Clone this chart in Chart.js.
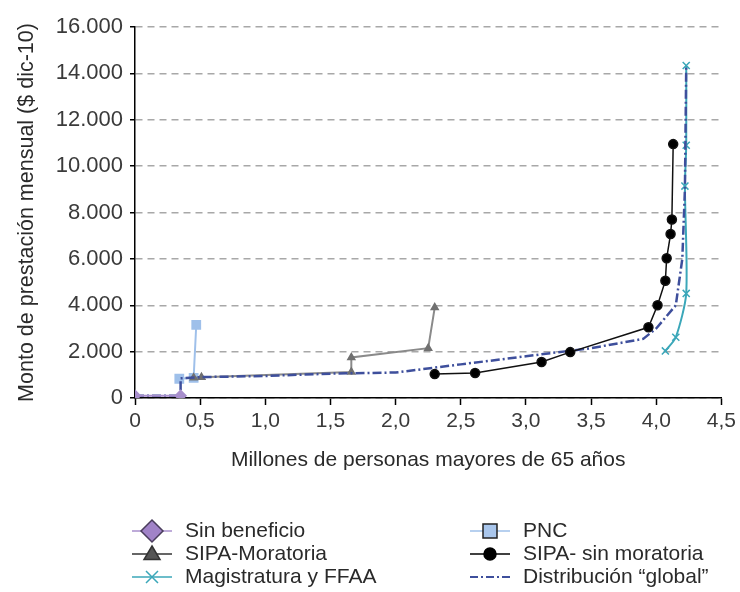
<!DOCTYPE html>
<html>
<head>
<meta charset="utf-8">
<script src="https://cdn.jsdelivr.net/npm/chart.js@4"></script>
<style>
  body { margin: 0; background: #fff; }
</style>
</head>
<body>
<canvas id="chart" width="740" height="592"></canvas>
<script>
// data (x: millones de personas, y: $ dic-10)
var sinBeneficioX = [0, 0.35];
var sinBeneficioY = [100, 100];

var pncX = [0.34, 0.45, 0.47];
var pncY = [830, 870, 3150];

var moratoriaX = [0.45, 0.51, 1.66, 1.66, 2.25, 2.30];
var moratoriaY = [870, 900, 1120, 1750, 2150, 3900];

var sinMoratoriaX = [2.30, 2.61, 3.12, 3.34, 3.94, 4.01, 4.07, 4.08, 4.11, 4.12, 4.13];
var sinMoratoriaY = [1030, 1080, 1550, 1980, 3050, 4000, 5060, 6030, 7070, 7700, 10950];

var magistraturaX = [4.07, 4.15, 4.23, 4.22, 4.23, 4.23];
var magistraturaY = [2030, 2620, 4510, 9140, 10900, 14340];

var globalX = [0, 0.35, 0.35, 0.5, 1.0, 1.5, 2.0, 2.5, 3.0, 3.5, 3.9, 4.0, 4.15, 4.2, 4.22, 4.23];
var globalY = [100, 100, 850, 900, 950, 1050, 1100, 1450, 1800, 2150, 2550, 3000, 4000, 6000, 9000, 14300];

var labels = ['Sin beneficio', 'PNC', 'SIPA-Moratoria', 'SIPA- sin moratoria', 'Magistratura y FFAA', 'Distribución \u201cglobal\u201d'];

var xTickMax = 4.5, xTickStep = 0.5;
var yTickMax = 16000, yTickStep = 2000;

function pts(xs, ys) {
  return xs.map(function (x, i) { return { x: x, y: ys[i] }; });
}

var FONT = 'Liberation Sans';
var TXT = '#3a3a3a';

var data = {
  datasets: [
    { label: labels[0], data: pts(sinBeneficioX, sinBeneficioY), borderColor: '#a88fcc', backgroundColor: '#a88fcc',
      pointStyle: 'rectRot', pointRadius: 5, borderWidth: 2, order: 0 },
    { label: labels[1], data: pts(pncX, pncY), borderColor: '#9fc0ea', backgroundColor: '#9fc0ea',
      pointStyle: 'rect', pointRadius: 5.5, borderWidth: 2, order: 5 },
    { label: labels[2], data: pts(moratoriaX, moratoriaY), borderColor: '#8a8a8a', backgroundColor: '#707070',
      pointBorderColor: '#707070', pointStyle: 'triangle', pointRadius: 3.5, borderWidth: 2, order: 4 },
    { label: labels[3], data: pts(sinMoratoriaX, sinMoratoriaY), borderColor: '#111', backgroundColor: '#000',
      pointStyle: 'circle', pointRadius: 4.5, borderWidth: 1.5, order: 1 },
    { label: labels[4], data: pts(magistraturaX, magistraturaY), borderColor: '#3ba7b9', backgroundColor: '#3ba7b9',
      pointStyle: 'crossRot', pointRadius: 5, pointBorderWidth: 1.5, borderWidth: 2, tension: 0.25, order: 3 },
    { label: labels[5], data: pts(globalX, globalY), borderColor: '#3e4f9c', backgroundColor: '#3e4f9c',
      borderDash: [9, 3, 2, 3], pointRadius: 0, borderWidth: 2.5, order: 2 }
  ]
};

function drawMarker(ctx, style, x, y, r, fill, stroke) {
  ctx.beginPath();
  ctx.fillStyle = fill;
  ctx.strokeStyle = stroke;
  ctx.lineWidth = 1.5;
  if (style === 'rectRot') {
    ctx.moveTo(x, y - r); ctx.lineTo(x + r, y); ctx.lineTo(x, y + r); ctx.lineTo(x - r, y); ctx.closePath();
    ctx.fill(); ctx.stroke();
  } else if (style === 'rect') {
    ctx.rect(x - r, y - r, 2 * r, 2 * r); ctx.fill(); ctx.stroke();
  } else if (style === 'triangle') {
    ctx.moveTo(x, y - r); ctx.lineTo(x + r, y + r * 0.7); ctx.lineTo(x - r, y + r * 0.7); ctx.closePath();
    ctx.fill(); ctx.stroke();
  } else if (style === 'circle') {
    ctx.arc(x, y, r, 0, Math.PI * 2); ctx.fill(); ctx.stroke();
  } else if (style === 'crossRot') {
    ctx.moveTo(x - r, y - r); ctx.lineTo(x + r, y + r);
    ctx.moveTo(x + r, y - r); ctx.lineTo(x - r, y + r);
    ctx.stroke();
  }
}

// two column legend below the chart, like the original figure
var legendLayout = [
  { col: 0, row: 0, marker: 'rectRot', r: 11, fill: '#a183c8', stroke: '#4a3d5c', line: '#a88fcc' },
  { col: 1, row: 0, marker: 'rect', r: 7, fill: '#a9c6ec', stroke: '#222', line: '#9fc0ea' },
  { col: 0, row: 1, marker: 'triangle', r: 8, fill: '#555', stroke: '#333', line: '#333' },
  { col: 1, row: 1, marker: 'circle', r: 6, fill: '#000', stroke: '#000', line: '#000' },
  { col: 0, row: 2, marker: 'crossRot', r: 6, fill: '#3ba7b9', stroke: '#3ba7b9', line: '#3ba7b9' },
  { col: 1, row: 2, marker: null, line: '#3e4f9c', dash: [8, 3, 2, 3] }
];

var legendPlugin = {
  id: 'twoColLegend',
  afterDraw: function (chart) {
    var ctx = chart.ctx;
    var colX = [152, 490];
    var rowY = [531, 554, 577];
    ctx.save();
    chart.data.datasets.forEach(function (ds, i) {
      var it = legendLayout[i];
      var cx = colX[it.col], cy = rowY[it.row];
      ctx.beginPath();
      ctx.strokeStyle = it.line;
      ctx.lineWidth = it.dash ? 2 : 1.5;
      ctx.setLineDash(it.dash || []);
      ctx.moveTo(cx - 20, cy);
      ctx.lineTo(cx + 20, cy);
      ctx.stroke();
      ctx.setLineDash([]);
      if (it.marker) drawMarker(ctx, it.marker, cx, cy, it.r, it.fill, it.stroke);
      ctx.fillStyle = '#2a2a2a';
      ctx.font = '21px "' + FONT + '"';
      ctx.textBaseline = 'middle';
      ctx.textAlign = 'left';
      ctx.fillText(ds.label, cx + 33, cy);
    });
    ctx.restore();
  }
};

var options = {
  responsive: false,
  animation: false,
  layout: { padding: { left: 10, right: 14, top: 27, bottom: 0 } },
  plugins: { legend: { display: false }, tooltip: { enabled: false } },
  elements: { line: { fill: false } },
  scales: {
    x: {
      type: 'linear',
      min: 0, max: xTickMax,
      afterFit: function (s) { s.height = 194; },
      ticks: {
        stepSize: xTickStep, color: TXT, padding: 4,
        font: { family: FONT, size: 21 },
        callback: function (v) { return v === 0 ? '0' : v.toFixed(1).replace('.', ','); }
      },
      grid: { drawOnChartArea: false, drawTicks: true, tickLength: 7, tickColor: '#000', tickWidth: 1.5 },
      border: { color: '#000', width: 1.5 },
      title: {
        display: true, text: 'Millones de personas mayores de 65 años', color: '#2a2a2a',
        font: { family: FONT, size: 21 }, padding: { top: 0, bottom: 119 }
      }
    },
    y: {
      min: 0, max: yTickMax,
      afterFit: function (s) { s.width = 125; },
      ticks: {
        stepSize: yTickStep, color: TXT, padding: 7,
        font: { family: FONT, size: 22 },
        callback: function (v) { return String(v).replace(/\B(?=(\d{3})+(?!\d))/g, '.'); }
      },
      grid: { color: '#a8a8a8', lineWidth: 1.5, tickLength: 5, tickColor: '#000', tickBorderDash: [], tickWidth: 1.5 },
      border: { color: '#000', width: 1.5, dash: [7, 5] },
      title: {
        display: true, text: 'Monto de prestación mensual ($ dic-10)', color: '#2a2a2a',
        font: { family: FONT, size: 21.5 }, padding: { top: 4, bottom: 0 }
      }
    }
  }
};

var c = document.getElementById('chart');
var chart = new Chart(c, { type: 'scatter', data: data, options: options, plugins: [legendPlugin] });
data.datasets.forEach(function (d) { d.showLine = true; });
chart.update();
</script>
</body>
</html>
